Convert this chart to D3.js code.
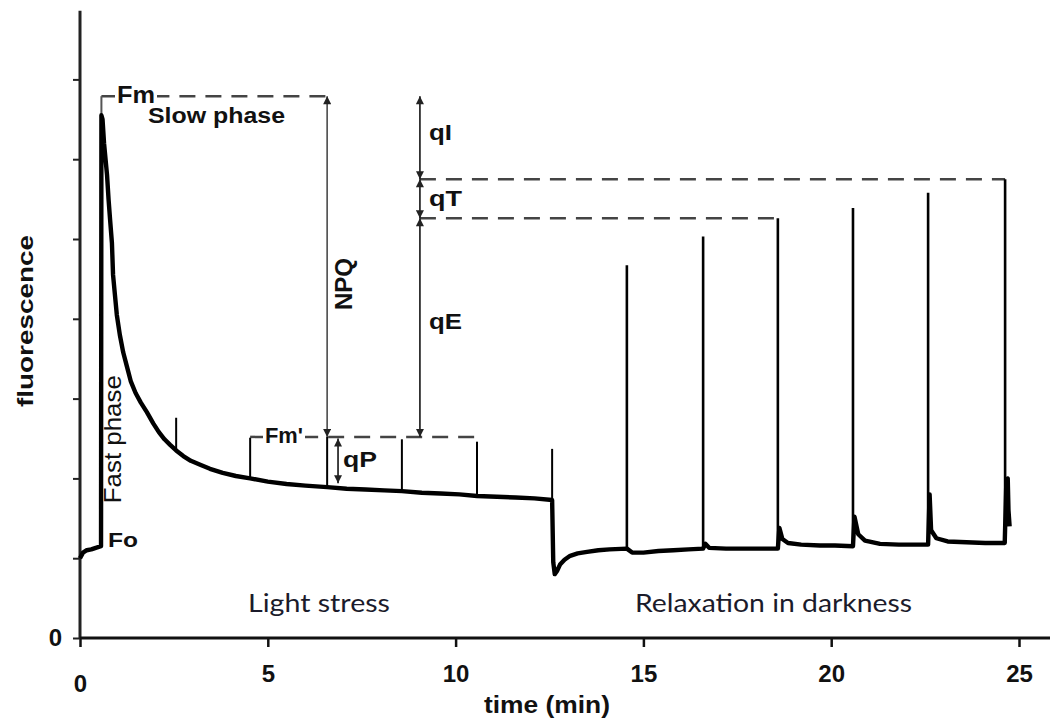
<!DOCTYPE html>
<html>
<head>
<meta charset="utf-8">
<script src="https://cdn.jsdelivr.net/npm/d3@7"></script>
<style>
  body { margin: 0; background: #fff; }
  svg { display: block; }
  .lbl { font-family: "Liberation Sans", Arial, sans-serif; font-weight: bold; fill: #111; }
  .phase { font-family: Lato, "Open Sans", sans-serif; fill: #1b1b2b; }
</style>
</head>
<body>
<script>
var w = 1050, h = 722;

// fluorescence trace (minutes, relative units) without the saturating pulses
var traceTime = [0.00, 0.08, 0.18, 0.30, 0.42, 0.56, 0.57, 0.60, 0.64, 0.68, 0.72, 0.76, 0.80, 0.85, 0.88, 0.93, 0.98,
    1.06, 1.15, 1.25, 1.35, 1.48, 1.62, 1.78, 1.95, 2.10, 2.25, 2.40, 2.56, 2.75, 2.95, 3.20, 3.46, 3.80, 4.15, 4.53,
    5.00, 5.50, 6.00, 6.58, 7.10, 7.60, 8.10, 8.57, 9.10, 9.60, 10.10, 10.57, 11.10, 11.60, 12.10, 12.57,
    12.60, 12.64, 12.70, 12.78, 12.90, 13.05, 13.25, 13.50, 13.80, 14.10, 14.56, 14.70, 15.00, 15.40, 15.80, 16.20,
    16.59, 16.65, 16.75, 17.20, 17.70, 18.20, 18.58, 18.62, 18.70, 18.85, 19.20, 19.70, 20.10, 20.58, 20.62, 20.72,
    20.90, 21.30, 21.80, 22.20, 22.58, 22.62, 22.66, 22.80, 23.10, 23.60, 24.10, 24.62, 24.66, 24.70, 24.72, 24.75];
var traceValue = [1.00, 1.07, 1.10, 1.11, 1.13, 1.15, 6.55, 6.50, 6.20, 6.00, 5.80, 5.50, 5.25, 4.95, 4.55, 4.30, 4.05,
    3.80, 3.58, 3.40, 3.22, 3.07, 2.95, 2.83, 2.69, 2.58, 2.49, 2.42, 2.35, 2.28, 2.22, 2.17, 2.12, 2.07, 2.03, 2.00,
    1.96, 1.93, 1.91, 1.89, 1.87, 1.86, 1.85, 1.84, 1.82, 1.81, 1.80, 1.78, 1.77, 1.76, 1.75, 1.73,
    0.95, 0.80, 0.84, 0.92, 0.98, 1.03, 1.06, 1.08, 1.10, 1.11, 1.12, 1.07, 1.07, 1.09, 1.10, 1.11,
    1.12, 1.18, 1.13, 1.12, 1.12, 1.12, 1.12, 1.38, 1.24, 1.19, 1.17, 1.16, 1.16, 1.15, 1.52, 1.30,
    1.22, 1.18, 1.17, 1.17, 1.17, 1.80, 1.35, 1.25, 1.21, 1.20, 1.19, 1.19, 1.90, 2.00, 1.60, 1.40];

// saturating light pulses
var pulseTime = [2.56, 4.53, 6.58, 8.57, 10.57, 12.57, 14.56, 16.59, 18.58, 20.58, 22.58, 24.63];
var pulseBase = [2.35, 2.00, 1.89, 1.84, 1.78, 1.73, 1.12, 1.12, 1.12, 1.15, 1.17, 1.19];
var pulseTop  = [2.76, 2.51, 2.52, 2.49, 2.46, 2.37, 4.67, 5.03, 5.26, 5.39, 5.58, 5.75];

// reference levels
var levelFm = 6.79, levelFmP = 2.52, levelQT = 5.75, levelQE = 5.26, levelQP = 1.94, levelFo = 1.15;
var tFast = 0.57, tNPQ = 6.58, tQP = 6.87, tQ = 9.05;

var xTicks = [0, 5, 10, 15, 20, 25];
var yTicks = [0, 1, 2, 3, 4, 5, 6, 7];

var x = d3.scaleLinear().domain([0, 25]).range([80, 1019]);
var y = d3.scaleLinear().domain([0, 7]).range([638, 79.4]);

var svg = d3.select('body').append('svg')
    .attr('width', w)
    .attr('height', h);

var defs = svg.append('defs');
defs.append('marker')
    .attr('id', 'arr')
    .attr('viewBox', '0 0 10 10')
    .attr('refX', 10).attr('refY', 5)
    .attr('markerUnits', 'userSpaceOnUse')
    .attr('markerWidth', 9).attr('markerHeight', 8)
    .attr('orient', 'auto-start-reverse')
    .append('path')
    .attr('d', 'M0,0L10,5L0,10z')
    .attr('fill', '#222');

// axes
var gx = svg.append('g')
    .attr('transform', 'translate(0,' + y(0) + ')')
    .call(d3.axisBottom(x).tickValues(xTicks).tickSize(9).tickPadding(18).tickFormat(d3.format('d')));
gx.select('.domain').remove();
gx.selectAll('line').attr('stroke', '#111').attr('stroke-width', 2.5);
gx.selectAll('text').attr('class', 'lbl').style('font-size', '24px').attr('fill', '#111');
gx.selectAll('.tick').filter(d => d === 0).select('text').attr('y', 37);

var gy = svg.append('g')
    .attr('transform', 'translate(' + x(0) + ',0)')
    .call(d3.axisLeft(y).tickValues(yTicks).tickSize(7).tickPadding(11)
        .tickFormat(d => d === 0 ? '0' : ''));
gy.select('.domain').remove();
gy.selectAll('line').attr('stroke', '#222').attr('stroke-width', 2);
gy.selectAll('text').attr('class', 'lbl').style('font-size', '24px').attr('fill', '#111');

svg.append('line')
    .attr('x1', x(0)).attr('x2', x(0))
    .attr('y1', y(0)).attr('y2', y(7.86))
    .attr('stroke', '#222').attr('stroke-width', 3);
svg.append('line')
    .attr('x1', x(0)).attr('x2', x(25.83))
    .attr('y1', y(0)).attr('y2', y(0))
    .attr('stroke', '#111').attr('stroke-width', 3);

// dashed reference lines
var dash = svg.append('g')
    .attr('stroke', '#444')
    .attr('stroke-width', 2.5)
    .attr('stroke-dasharray', '16,10')
    .attr('fill', 'none');
dash.append('line').attr('x1', x(tFast)).attr('x2', x(tNPQ)).attr('y1', y(levelFm)).attr('y2', y(levelFm));
dash.append('line').attr('x1', x(tQ)).attr('x2', x(pulseTime[11])).attr('y1', y(levelQT)).attr('y2', y(levelQT));
dash.append('line').attr('x1', x(tQ)).attr('x2', x(pulseTime[8])).attr('y1', y(levelQE)).attr('y2', y(levelQE));
dash.append('line').attr('x1', x(pulseTime[1])).attr('x2', x(pulseTime[4])).attr('y1', y(levelFmP)).attr('y2', y(levelFmP));

// Fm bracket
svg.append('line')
    .attr('x1', x(tFast)).attr('x2', x(tFast))
    .attr('y1', y(levelFm)).attr('y2', y(traceValue[6]))
    .attr('stroke', '#555').attr('stroke-width', 2);

// trace
var line = d3.line()
    .x(d => x(d[0]))
    .y(d => y(d[1]));
svg.append('path')
    .datum(traceTime.map((t, i) => [t, traceValue[i]]))
    .attr('d', line)
    .attr('fill', 'none')
    .attr('stroke', '#000')
    .attr('stroke-width', 4.4)
    .attr('stroke-linejoin', 'round');

svg.append('g').selectAll('line')
    .data(pulseTime)
    .enter()
    .append('line')
    .attr('x1', d => x(d)).attr('x2', d => x(d))
    .attr('y1', (d, i) => y(pulseBase[i]))
    .attr('y2', (d, i) => y(pulseTop[i]))
    .attr('stroke', '#000')
    .attr('stroke-width', (d, i) => i < 6 ? 2 : 2.6);

// double arrows
var arrows = [
    [tNPQ, levelFm, levelFmP],
    [tQ, levelFm, levelQT],
    [tQ, levelQT, levelQE],
    [tQ, levelQE, levelFmP],
    [tQP, levelFmP - 0.02, levelQP]
];
svg.append('g').selectAll('line')
    .data(arrows)
    .enter()
    .append('line')
    .attr('x1', d => x(d[0])).attr('x2', d => x(d[0]))
    .attr('y1', d => y(d[1])).attr('y2', d => y(d[2]))
    .attr('stroke', (d, i) => i === 0 ? '#555' : '#222')
    .attr('stroke-width', 1.7)
    .attr('marker-start', 'url(#arr)')
    .attr('marker-end', 'url(#arr)');

// labels
function label(txt, px, py, size, len, opts) {
    opts = opts || {};
    var t = svg.append('text')
        .attr('class', opts.cls || 'lbl')
        .attr('x', px).attr('y', py)
        .style('font-size', size + 'px')
        .attr('text-anchor', opts.anchor || 'start')
        .attr('textLength', len)
        .attr('lengthAdjust', 'spacingAndGlyphs')
        .text(txt);
    if (opts.rotate) {
        t.attr('x', 0).attr('y', 0)
            .attr('transform', 'translate(' + px + ',' + py + ') rotate(-90)');
    }
    if (opts.weight) t.style('font-weight', opts.weight);
    if (opts.knockout) {
        var b = t.node().getBBox();
        svg.insert('rect', () => t.node())
            .attr('x', b.x - 2).attr('y', b.y + 4)
            .attr('width', b.width + 4).attr('height', b.height - 8)
            .attr('fill', '#fff');
    }
    return t;
}

label('Fm', 117, y(levelFm) + 7, 24, 38, { knockout: true });
label('Slow phase', 148, 123, 22, 137);
label('Fo', 108, y(levelFo) + 1, 21, 30);
label('Fast phase', 121, y(levelFo) - 43, 24, 128, { rotate: true, weight: 'normal' });
label('NPQ', 352, 284, 23, 52, { rotate: true, anchor: 'middle' });
label('qI', 429, 140, 22, 23);
label('qT', 429, 206, 22, 33);
label('qE', 429, 329, 22, 33);
label('qP', 343, 467, 22, 34);
label("Fm'", 265, y(levelFmP) + 6, 22, 38, { knockout: true });
label('fluorescence', 33, 321, 22, 172, { rotate: true, anchor: 'middle' });
label('Light stress', 248, 612, 25, 142, { cls: 'phase' });
label('Relaxation in darkness', 635, 612, 25, 277, { cls: 'phase' });
label('time (min)', 547, 713, 24, 126, { anchor: 'middle' });
</script>
</body>
</html>
